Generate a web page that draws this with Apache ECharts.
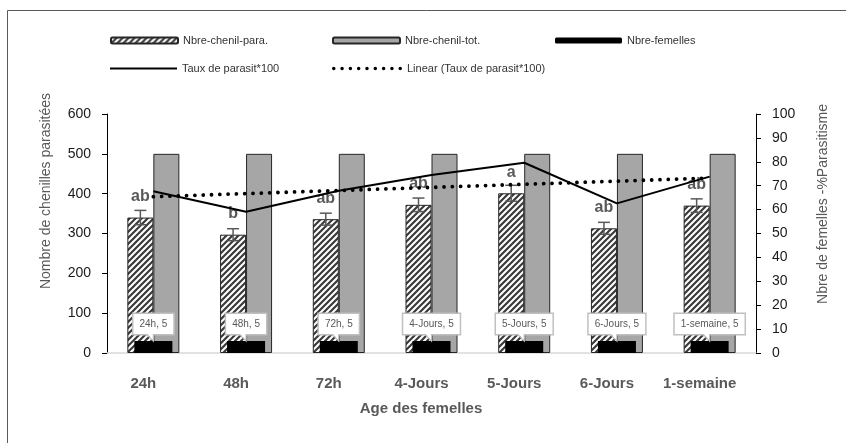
<!DOCTYPE html>
<html>
<head>
<meta charset="utf-8">
<script src="https://cdn.jsdelivr.net/npm/echarts@6/dist/echarts.min.js"></script>
<style>html,body{margin:0;padding:0;background:#fff}#c{width:846px;height:443px}</style>
</head>
<body>
<div id="c"></div>
<script>
const categories = ['24h', '48h', '72h', '4-Jours', '5-Jours', '6-Jours', '1-semaine'];
const paraValues = [340, 297, 336, 372, 401, 313, 370];
const paraErrors = [18, 15, 15, 17, 20, 15, 17];
const paraLetters = ['ab', 'b', 'ab', 'ab', 'a', 'ab', 'ab'];
const totValues = [500, 500, 500, 500, 500, 500, 500];
const femellesValues = [5, 5, 5, 5, 5, 5, 5];
const tauxValues = [67.7, 59.1, 67.9, 74.5, 79.6, 62.6, 73.8];
const trendStart = 65.4;
const trendEnd = 73.2;

const SANS = "'Liberation Sans', Arial, sans-serif";

// hatch pattern
const pc = document.createElement('canvas');
pc.width = 6; pc.height = 6;
const g = pc.getContext('2d');
g.fillStyle = '#ffffff'; g.fillRect(0, 0, 6, 6);
g.strokeStyle = '#3a3a3a'; g.lineWidth = 2.2;
g.beginPath();
g.moveTo(-1, 7); g.lineTo(7, -1);
g.moveTo(-4, 4); g.lineTo(4, -4);
g.moveTo(2, 10); g.lineTo(10, 2);
g.stroke();

// dotted legend icon path
let dotPath = 'path://';
for (let k = 0; k < 9; k++) {
  const cx = 2 + k * 8, r = 1.7;
  dotPath += 'M' + (cx + r) + ' 2a' + r + ' ' + r + ' 0 1 0 ' + (-2 * r) + ' 0a' + r + ' ' + r + ' 0 1 0 ' + (2 * r) + ' 0z';
}

const chart = echarts.init(document.getElementById('c'), null, {renderer: 'canvas'});

const legendBase = {
  padding: 0, itemHeight: 6, itemWidth: 67, itemGap: 0,
  textStyle: {fontFamily: SANS, fontSize: 11, color: '#333333'},
  selectedMode: false
};

const option = {
  backgroundColor: '#ffffff',
  animation: false,
  grid: {left: 107, right: 90, top: 114, bottom: 90},
  legend: [
    Object.assign({}, legendBase, {left: 110, top: 35, data: ['Nbre-chenil-para.']}),
    Object.assign({}, legendBase, {left: 332, top: 35, data: ['Nbre-chenil-tot.']}),
    Object.assign({}, legendBase, {left: 555, top: 35, data: ['Nbre-femelles']}),
    Object.assign({}, legendBase, {left: 110, top: 63, itemHeight: 2, data: [{name: 'Taux de parasit*100', icon: 'rect', itemStyle: {color: '#000'}}]}),
    Object.assign({}, legendBase, {left: 332, top: 63, itemHeight: 4, itemWidth: 70, data: [{name: 'Linear (Taux de parasit*100)', icon: dotPath, itemStyle: {color: '#000'}}]})
  ],
  xAxis: [
    {
      type: 'category', data: categories,
      axisLine: {lineStyle: {color: '#d9d9d9', width: 1.5}},
      axisTick: {show: false},
      axisLabel: {
        interval: 0,
        fontFamily: SANS, fontWeight: 'bold', fontSize: 15, color: '#595959',
        margin: 23, padding: [0, 20, 0, 0]
      }
    },
    {type: 'category', data: categories, show: false}
  ],
  yAxis: [
    {
      type: 'value', min: 0, max: 600, interval: 100,
      axisLine: {show: true, lineStyle: {color: '#000', width: 1}},
      axisTick: {show: true, length: 5, lineStyle: {color: '#000'}},
      splitLine: {show: false},
      axisLabel: {fontFamily: SANS, fontSize: 14, color: '#1a1a1a', margin: 16}
    },
    {
      type: 'value', min: 0, max: 100, interval: 10, position: 'right',
      axisLine: {show: true, lineStyle: {color: '#000', width: 1}},
      axisTick: {show: true, length: 5, lineStyle: {color: '#000'}},
      splitLine: {show: false},
      axisLabel: {fontFamily: SANS, fontSize: 14, color: '#1a1a1a', margin: 16}
    }
  ],
  series: [
    {
      name: 'Nbre-chenil-para.', type: 'bar', xAxisIndex: 0, yAxisIndex: 0,
      data: paraValues, barWidth: 26, barGap: '0%',
      itemStyle: {color: {image: pc, repeat: 'repeat'}, borderColor: '#262626', borderWidth: 1},
      label: {
        show: true, position: 'top', distance: 13,
        formatter: p => paraLetters[p.dataIndex],
        fontFamily: SANS, fontWeight: 'bold', fontSize: 16, color: '#595959'
      },
      z: 2
    },
    {
      name: 'Nbre-chenil-tot.', type: 'bar', xAxisIndex: 0, yAxisIndex: 0,
      data: totValues, barWidth: 26, barGap: '0%',
      itemStyle: {color: '#a6a6a6', borderColor: '#262626', borderWidth: 1},
      z: 2
    },
    {
      name: 'Nbre-femelles', type: 'bar', xAxisIndex: 1, yAxisIndex: 1,
      data: femellesValues, barWidth: 38,
      itemStyle: {color: '#000000'},
      z: 3
    },
    {
      name: 'errors', type: 'custom', xAxisIndex: 0, yAxisIndex: 0, z: 4,
      data: paraValues.map((v, i) => [i, v, paraErrors[i]]),
      encode: {x: 0, y: 1},
      renderItem: function (params, api) {
        const i = api.value(0), v = api.value(1), e = api.value(2);
        const top = api.coord([i, v + e]);
        const bot = api.coord([i, v - e]);
        const x = top[0] - 13;
        const st = {stroke: '#595959', lineWidth: 1.5};
        return {
          type: 'group', children: [
            {type: 'line', shape: {x1: x, y1: top[1], x2: x, y2: bot[1]}, style: st},
            {type: 'line', shape: {x1: x - 6, y1: top[1], x2: x + 6, y2: top[1]}, style: st},
            {type: 'line', shape: {x1: x - 6, y1: bot[1], x2: x + 6, y2: bot[1]}, style: st}
          ]
        };
      }
    },
    {
      name: 'callouts', type: 'custom', xAxisIndex: 1, yAxisIndex: 1, z: 5,
      data: femellesValues.map((v, i) => [i, v]),
      encode: {x: 0, y: 1},
      renderItem: function (params, api) {
        const i = api.value(0), v = api.value(1);
        const p = api.coord([i, v]);
        const cx = p[0], tip = p[1];
        const by = tip - 7;
        return {
          type: 'group', children: [
            {
              type: 'text', x: cx, y: by,
              style: {
                text: categories[i] + ', ' + v,
                align: 'center', verticalAlign: 'bottom',
                font: '10px ' + SANS, fill: '#595959',
                backgroundColor: '#ffffff', borderColor: '#c0c0c0', borderWidth: 1.5,
                padding: [5, 6, 5, 6]
              }
            },
            {type: 'polygon', shape: {points: [[cx - 7, by - 1.5], [cx, tip], [cx, by - 1.5]]}, style: {fill: '#ffffff'}},
            {type: 'polyline', shape: {points: [[cx - 7, by], [cx, tip], [cx, by]]}, style: {stroke: '#c0c0c0', lineWidth: 1.2, fill: null}}
          ]
        };
      }
    },
    {
      name: 'Taux de parasit*100', type: 'line', xAxisIndex: 0, yAxisIndex: 1,
      data: tauxValues, showSymbol: false, symbol: 'none',
      lineStyle: {color: '#000', width: 2}, itemStyle: {color: '#000'},
      z: 6
    },
    {
      name: 'Linear (Taux de parasit*100)', type: 'line', xAxisIndex: 0, yAxisIndex: 1,
      data: [[0, trendStart], [categories.length - 1, trendEnd]],
      showSymbol: false, symbol: 'none',
      lineStyle: {color: '#000', width: 3.8, type: [0.01, 8.3], cap: 'round'},
      itemStyle: {color: '#000'},
      z: 6
    }
  ],
  graphic: [
    {type: 'line', shape: {x1: 7.5, y1: 10.5, x2: 846, y2: 10.5}, style: {stroke: '#595959', lineWidth: 1}},
    {type: 'line', shape: {x1: 7.5, y1: 10.5, x2: 7.5, y2: 443}, style: {stroke: '#595959', lineWidth: 1}},
    {type: 'text', x: 46, y: 191, rotation: Math.PI / 2,
      style: {text: 'Nombre de chenilles parasitées', font: '14px ' + SANS, fill: '#595959', align: 'center', verticalAlign: 'middle'}},
    {type: 'text', x: 823, y: 204, rotation: Math.PI / 2,
      style: {text: 'Nbre de femelles -%Parasitisme', font: '14px ' + SANS, fill: '#595959', align: 'center', verticalAlign: 'middle'}},
    {type: 'text', x: 421, y: 409,
      style: {text: 'Age des femelles', font: 'bold 15px ' + SANS, fill: '#595959', align: 'center', verticalAlign: 'middle'}}
  ]
};
chart.setOption(option);
</script>
</body>
</html>
